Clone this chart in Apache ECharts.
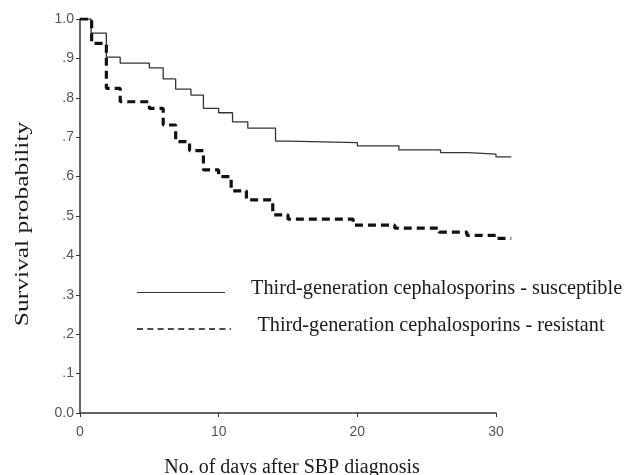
<!DOCTYPE html>
<html>
<head>
<meta charset="utf-8">
<script src="https://cdn.jsdelivr.net/npm/echarts@6/dist/echarts.min.js"></script>
<style>
html,body{margin:0;padding:0;background:#fff;}
#chart{width:624px;height:475px;}
</style>
</head>
<body>
<div id="chart"></div>
<script>
// Kaplan-Meier step points [day, survival]
const susceptibleDays = [0, 0.8, 1.9, 2.9, 5.0, 6.0, 6.9, 8.0, 8.9, 10.0, 11.0, 12.1, 14.1, 15.0, 20.0, 23.0, 26.0, 28.0, 30.0, 31.1];
const susceptibleSurv = [1.0, 0.964, 0.903, 0.888, 0.876, 0.848, 0.822, 0.807, 0.773, 0.762, 0.739, 0.723, 0.690, 0.686, 0.678, 0.668, 0.661, 0.657, 0.650, 0.650];
const resistantDays = [0, 0.84, 1.9, 2.9, 5.0, 6.0, 6.9, 7.9, 8.9, 10.0, 10.9, 12.0, 13.9, 15.0, 19.7, 22.7, 25.9, 27.9, 30.0, 31.1];
const resistantSurv = [1.0, 0.938, 0.824, 0.790, 0.773, 0.731, 0.689, 0.666, 0.617, 0.600, 0.564, 0.541, 0.503, 0.492, 0.477, 0.469, 0.459, 0.451, 0.443, 0.443];
const seriesNames = ['Third-generation cephalosporins - susceptible', 'Third-generation cephalosporins - resistant'];
const xTicks = [0, 10, 20, 30];
const yTickLabels = ['0.0', '.1', '.2', '.3', '.4', '.5', '.6', '.7', '.8', '.9', '1.0'];
const xAxisTitle = 'No. of days after SBP diagnosis';
const yAxisTitle = 'Survival probability';

const pair = (xs, ys) => xs.map((x, i) => [x, ys[i]]);

const chart = echarts.init(document.getElementById('chart'));
const axisColor = '#333';
const labelColor = '#555';
const textColor = '#1a1a1a';
const serif = '"Liberation Serif", "DejaVu Serif", serif';
const sans = '"Liberation Sans", Arial, sans-serif';

// Plot geometry: visible axis spans days 0..30; a hidden twin grid with the
// same scale extends to day 32 so the curves can run past the axis end.
const gridLeft = 80, gridTop = 19, gridBottom = 62, axisWidth = 416;
const xMax = xTicks[xTicks.length - 1];
const dataXMax = 32;

chart.setOption({
  animation: false,
  backgroundColor: '#fff',
  grid: [
    {left: gridLeft, width: axisWidth, top: gridTop, bottom: gridBottom, outerBoundsMode: 'none', containLabel: false},
    {left: gridLeft, width: axisWidth * dataXMax / xMax, top: gridTop, bottom: gridBottom, outerBoundsMode: 'none', containLabel: false}
  ],
  xAxis: [{
    gridIndex: 0, type: 'value', min: 0, max: xMax, interval: 10,
    name: xAxisTitle, nameLocation: 'middle', nameGap: 45,
    nameTextStyle: {fontFamily: serif, fontSize: 20, color: textColor, padding: [0, 0, 0, 8]},
    axisLine: {show: true, lineStyle: {color: axisColor, width: 1.5}},
    axisTick: {show: true, length: 4, lineStyle: {color: axisColor}},
    axisLabel: {color: labelColor, fontFamily: sans, fontSize: 14, margin: 12},
    splitLine: {show: false}
  }, {
    gridIndex: 1, type: 'value', min: 0, max: dataXMax, show: false, splitLine: {show: false}
  }],
  yAxis: [{
    gridIndex: 0, type: 'value', min: 0, max: 1, interval: 0.1,
    axisLine: {show: true, lineStyle: {color: axisColor, width: 1.5}},
    axisTick: {show: true, length: 4, lineStyle: {color: axisColor}},
    axisLabel: {color: labelColor, fontFamily: sans, fontSize: 14, margin: 6,
      formatter: v => yTickLabels[Math.round(v * 10)]},
    splitLine: {show: false}
  }, {
    gridIndex: 1, type: 'value', min: 0, max: 1, show: false, splitLine: {show: false}
  }],
  graphic: [
    {type: 'text', x: 23, y: 224, rotation: Math.PI / 2, scaleX: 1.34,
     style: {text: yAxisTitle, font: '19px ' + serif, fill: textColor, align: 'center', verticalAlign: 'middle'}},
    {type: 'line', shape: {x1: 137, y1: 292.5, x2: 225, y2: 292.5},
     style: {stroke: '#333', lineWidth: 1.2}},
    {type: 'text', x: 251, y: 289,
     style: {text: seriesNames[0], font: '20.3px ' + serif, fill: textColor, verticalAlign: 'middle'}},
    {type: 'line', shape: {x1: 137, y1: 329, x2: 231, y2: 329},
     style: {stroke: '#111', lineWidth: 1.6, lineDash: [6, 4.3]}},
    {type: 'text', x: 257.5, y: 325.5,
     style: {text: seriesNames[1], font: '20.2px ' + serif, fill: textColor, verticalAlign: 'middle'}}
  ],
  series: [
    {
      name: seriesNames[0], type: 'line', step: 'end', symbol: 'none',
      xAxisIndex: 1, yAxisIndex: 1,
      data: pair(susceptibleDays, susceptibleSurv),
      lineStyle: {color: '#333', width: 1.3}
    },
    {
      name: seriesNames[1], type: 'line', step: 'end', symbol: 'none',
      xAxisIndex: 1, yAxisIndex: 1,
      data: pair(resistantDays, resistantSurv),
      lineStyle: {color: '#111', width: 3.2, type: [8, 5]}
    }
  ]
});
</script>
</body>
</html>
